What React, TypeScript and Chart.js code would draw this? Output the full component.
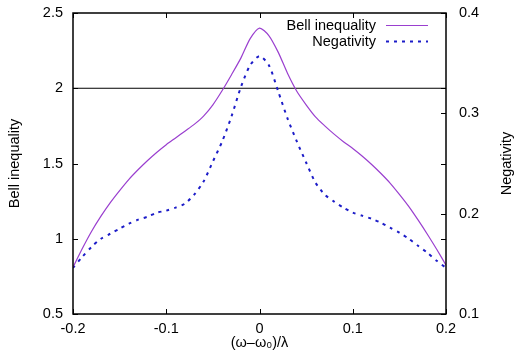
import { useEffect, useRef } from 'react';
import { Chart, registerables } from 'chart.js';

Chart.register(...registerables);

const xValues = [
  -0.2, -0.19, -0.18, -0.17, -0.16, -0.15, -0.14, -0.13, -0.12, -0.11,
  -0.1, -0.09, -0.08, -0.07, -0.06, -0.05, -0.04, -0.03, -0.02, -0.01,
  0, 0.01, 0.02, 0.03, 0.04, 0.05, 0.06, 0.07, 0.08, 0.09,
  0.1, 0.11, 0.12, 0.13, 0.14, 0.15, 0.16, 0.17, 0.18, 0.19, 0.2,
];

const bellValues = [
  0.81, 0.935, 1.05, 1.15, 1.24, 1.32, 1.395, 1.46, 1.52, 1.575,
  1.625, 1.67, 1.715, 1.76, 1.815, 1.89, 1.985, 2.09, 2.2, 2.33,
  2.40, 2.35, 2.24, 2.10, 1.98, 1.89, 1.81, 1.75, 1.695, 1.645,
  1.60, 1.55, 1.495, 1.435, 1.37, 1.295, 1.215, 1.125, 1.03, 0.93, 0.825,
];

const negativityValues = [
  0.146, 0.157, 0.167, 0.175, 0.180, 0.185, 0.190, 0.194, 0.197, 0.201,
  0.203, 0.206, 0.210, 0.219, 0.232, 0.252, 0.272, 0.297, 0.326, 0.348,
  0.357, 0.348, 0.322, 0.295, 0.272, 0.251, 0.231, 0.219, 0.212, 0.206,
  0.201, 0.198, 0.195, 0.191, 0.186, 0.181, 0.175, 0.168, 0.161, 0.153, 0.146,
];

const thresholdX = [-0.2, 0.2];
const thresholdValue = 2;

const xTicks = [-0.2, -0.1, 0, 0.1, 0.2];
const yTicks = [0.5, 1, 1.5, 2, 2.5];
const y2Ticks = [0.1, 0.2, 0.3, 0.4];

const seriesLabels = ['Bell inequality', 'Negativity'];
const xTitle = '(ω–ω₀)/λ';
const yTitle = 'Bell inequality';
const y2Title = 'Negativity';

const FONT = "'Liberation Sans', Arial, sans-serif";
const FS = 14.5;

const decorPlugin = {
  id: 'decor',
  afterDatasetsDraw(chart: any) {
    const { ctx, chartArea: a, scales } = chart;
    ctx.save();
    ctx.strokeStyle = '#000';
    ctx.lineWidth = 1;
    const L = 5;
    ctx.beginPath();
    for (const v of xTicks) {
      const px = Math.round(scales.x.getPixelForValue(v)) + 0.5;
      ctx.moveTo(px, a.bottom);
      ctx.lineTo(px, a.bottom - L);
      ctx.moveTo(px, a.top);
      ctx.lineTo(px, a.top + L);
    }
    for (const v of yTicks) {
      const py = Math.round(scales.y.getPixelForValue(v)) + 0.5;
      ctx.moveTo(a.left, py);
      ctx.lineTo(a.left + L, py);
      ctx.moveTo(a.right, py);
      ctx.lineTo(a.right - L, py);
    }
    for (const v of y2Ticks) {
      const py = Math.round(scales.y2.getPixelForValue(v)) + 0.5;
      ctx.moveTo(a.right, py);
      ctx.lineTo(a.right - L, py);
    }
    ctx.stroke();
    ctx.lineWidth = 1.5;
    ctx.strokeRect(a.left, a.top, a.right - a.left, a.bottom - a.top);

    // legend
    ctx.font = `${FS}px ${FONT}`;
    ctx.fillStyle = '#000';
    ctx.textAlign = 'right';
    ctx.textBaseline = 'middle';
    const rows = [25, 41];
    chart.data.datasets.slice(0, 2).forEach((ds: any, i: number) => {
      const y = rows[i];
      ctx.fillText(ds.label, 376, y + 1);
      ctx.save();
      ctx.strokeStyle = ds.borderColor;
      ctx.lineWidth = ds.borderWidth;
      ctx.setLineDash(ds.borderDash || []);
      ctx.beginPath();
      ctx.moveTo(386, y + 0.5);
      ctx.lineTo(428, y + 0.5);
      ctx.stroke();
      ctx.restore();
    });

    // right axis title (reads bottom to top)
    ctx.save();
    ctx.translate(507, (a.top + a.bottom) / 2);
    ctx.rotate(-Math.PI / 2);
    ctx.textAlign = 'center';
    ctx.textBaseline = 'middle';
    ctx.fillText(y2Title, 0, 0);
    ctx.restore();
    ctx.restore();
  },
};

export default function App() {
  const ref = useRef<HTMLCanvasElement | null>(null);

  useEffect(() => {
    if (!ref.current) return;
    const font = { family: FONT, size: FS };
    const chart = new Chart(ref.current, {
      type: 'line',
      data: {
        datasets: [
          {
            label: seriesLabels[0],
            data: xValues.map((x, i) => ({ x, y: bellValues[i] })),
            borderColor: '#9a3fcf',
            borderWidth: 1.2,
            pointRadius: 0,
            tension: 0.25,
            yAxisID: 'y',
          },
          {
            label: seriesLabels[1],
            data: xValues.map((x, i) => ({ x, y: negativityValues[i] })),
            borderColor: '#1c1cc8',
            borderWidth: 2,
            borderDash: [3, 5],
            pointRadius: 0,
            tension: 0.25,
            yAxisID: 'y2',
          },
          {
            label: 'threshold',
            data: thresholdX.map((x) => ({ x, y: thresholdValue })),
            borderColor: '#000',
            borderWidth: 1,
            pointRadius: 0,
            yAxisID: 'y',
          },
        ],
      },
      options: {
        animation: false,
        responsive: false,
        devicePixelRatio: 1,
        layout: { padding: { top: 13, left: 0, right: 0, bottom: 0 } },
        plugins: { legend: { display: false }, tooltip: { enabled: false } },
        scales: {
          x: {
            type: 'linear',
            position: 'bottom',
            min: -0.2,
            max: 0.2,
            grid: { display: false, drawTicks: false },
            border: { display: false },
            afterBuildTicks: (s: any) => { s.ticks = xTicks.map((v) => ({ value: v })); },
            afterFit: (s: any) => { s.height = 45; s.paddingLeft = 0; s.paddingRight = 0; },
            ticks: { font, color: '#000', padding: 6, maxRotation: 0, autoSkip: false, callback: (v: any) => String(v) },
            title: { display: true, text: xTitle, font, color: '#000', padding: { top: 0, bottom: 7 } },
          },
          y: {
            type: 'linear',
            position: 'left',
            min: 0.5,
            max: 2.5,
            grid: { display: false, drawTicks: false },
            border: { display: false },
            afterBuildTicks: (s: any) => { s.ticks = yTicks.map((v) => ({ value: v })); },
            afterFit: (s: any) => { s.width = 73; s.paddingTop = 0; s.paddingBottom = 0; },
            ticks: { font, color: '#000', padding: 10, autoSkip: false, callback: (v: any) => String(v) },
            title: { display: true, text: yTitle, font, color: '#000', padding: { top: 6, bottom: 0 } },
          },
          y2: {
            type: 'linear',
            position: 'right',
            min: 0.1,
            max: 0.4,
            grid: { display: false, drawTicks: false },
            border: { display: false },
            afterBuildTicks: (s: any) => { s.ticks = y2Ticks.map((v) => ({ value: v })); },
            afterFit: (s: any) => { s.width = 70; s.paddingTop = 0; s.paddingBottom = 0; },
            ticks: { font, color: '#000', padding: 13, autoSkip: false, callback: (v: any) => String(v) },
          },
        },
      },
      plugins: [decorPlugin],
    } as any);
    return () => chart.destroy();
  }, []);

  return (
    <div style={{ position: 'absolute', left: 0, top: 0, width: 516, height: 359, background: '#fff' }}>
      <canvas ref={ref} width={516} height={359} style={{ width: 516, height: 359 }} />
    </div>
  );
}
